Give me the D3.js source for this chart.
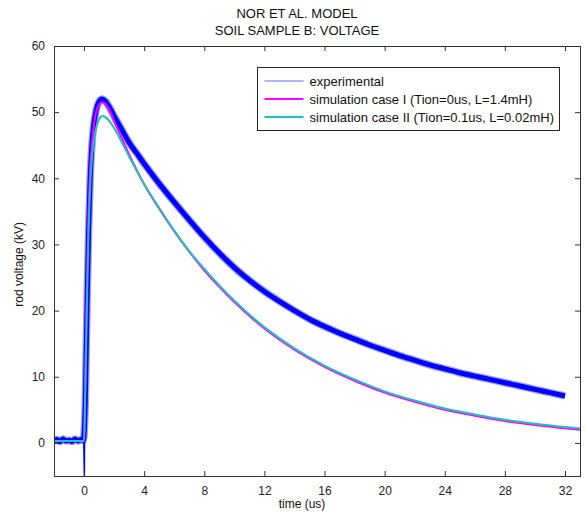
<!DOCTYPE html>
<html>
<head>
<meta charset="utf-8">
<script src="https://cdn.jsdelivr.net/npm/d3@7"></script>
<style>
  body { margin: 0; background: #fff; }
  svg text { font-family: "Liberation Sans", Arial, sans-serif; }
</style>
</head>
<body>
<div id="chart"></div>
<script>
// values
var titleLines = ['NOR ET AL. MODEL', 'SOIL SAMPLE B: VOLTAGE'];
var xTicks = [0, 4, 8, 12, 16, 20, 24, 28, 32];
var yTicks = [0, 10, 20, 30, 40, 50, 60];
var legendLabels = ['experimental', 'simulation case I (Tion=0us, L=1.4mH)', 'simulation case II (Tion=0.1us, L=0.02mH)'];

// experimental trace (centre of the noisy band)
var expT = [-2, -1.8, -1.6, -1.4, -1.2, -1.0, -0.8, -0.6, -0.4, -0.2, -0.05,
  0.08, 0.12, 0.2, 0.3, 0.4, 0.5, 0.6, 0.8, 1.0, 1.2, 1.4, 1.7, 2, 2.5, 3, 3.5, 4, 5, 6, 7, 8, 9, 10,
  11, 12, 13, 14, 15, 16, 17, 18, 19, 20, 21, 22, 23, 24, 25, 26, 27, 28, 29, 30, 31, 32];
var expV = [0.3, 0.5, 0.2, 0.6, 0.3, 0.4, 0.2, 0.6, 0.3, 0.5, 0.4,
  6, 11, 21, 32, 39.5, 44.3, 47.2, 50.3, 51.6, 52.0, 51.7, 50.7, 49.4, 47.4, 45.4, 43.8, 42.2, 39.2, 36.4, 33.7, 31.1, 28.7, 26.5,
  24.6, 22.9, 21.4, 20.0, 18.7, 17.6, 16.6, 15.7, 14.8, 14.0, 13.2, 12.5, 11.8, 11.2, 10.6, 10.1, 9.6, 9.1, 8.6, 8.1, 7.6, 7.1];
// trigger glitch of the experimental trace
var spikeT = [-0.02, 0.02, 0.04, 0.08];
var spikeV = [0.4, -5, 3, 6];

// simulation case I (magenta)
var sim1T = [-2, 0, 0.05, 0.1, 0.2, 0.3, 0.4, 0.5, 0.6, 0.7, 0.8, 1.0, 1.2, 1.4, 1.7, 2, 2.5, 3, 4, 5, 6, 7, 8, 9, 10,
  12, 14, 16, 18, 20, 22, 24, 26, 28, 30, 32, 33];
var sim1V = [0.3, 0.3, 5, 12, 25, 35, 41, 44.5, 47, 48.8, 50, 51.1, 51.5, 51.3, 50.3, 48.6, 46.1, 43.6, 39.1, 35.4, 32.0, 28.9, 26.1, 23.6, 21.3,
  17.3, 14.1, 11.5, 9.4, 7.6, 6.2, 5.0, 4.1, 3.3, 2.7, 2.2, 2.0];

// simulation case II (cyan)
var sim2T = [-2, 0, 0.05, 0.1, 0.2, 0.3, 0.4, 0.5, 0.6, 0.7, 0.8, 1.0, 1.2, 1.5, 2, 2.5, 3, 4, 5, 6, 7, 8, 9, 10,
  12, 14, 16, 18, 20, 22, 24, 26, 28, 30, 32, 33];
var sim2V = [0.3, 0.3, 4, 10, 22, 32, 38.5, 42.5, 44.8, 46.4, 47.6, 48.9, 49.4, 49.1, 47.6, 45.5, 43.3, 39.1, 35.5, 32.1, 29.0, 26.3, 23.8, 21.5,
  17.5, 14.3, 11.7, 9.6, 7.8, 6.4, 5.2, 4.3, 3.5, 2.9, 2.4, 2.2];

var colors = ['#0000ff', '#ff00ff', '#1fbfbf'];

var width = 586, height = 512;
var margin = {top: 46, right: 6, bottom: 36, left: 54};
var plotW = width - margin.left - margin.right;
var plotH = height - margin.top - margin.bottom;

var svg = d3.select('#chart').append('svg')
    .attr('width', width)
    .attr('height', height);

var x = d3.scaleLinear().domain([-2, 33]).range([0, plotW]);
var y = d3.scaleLinear().domain([-5, 60]).range([plotH, 0]);

var g = svg.append('g')
    .attr('transform', 'translate(' + margin.left + ',' + margin.top + ')');

g.append('defs').append('clipPath').attr('id', 'clip')
  .append('rect').attr('width', plotW).attr('height', plotH);

var zip = function(ts, vs){ return ts.map(function(t, i){ return [t, vs[i]]; }); };
var line = d3.line().x(function(d){ return x(d[0]); }).y(function(d){ return y(d[1]); });
var smooth = d3.line().curve(d3.curveMonotoneX).x(function(d){ return x(d[0]); }).y(function(d){ return y(d[1]); });

var lines = g.append('g').attr('clip-path', 'url(#clip)');

// experimental: a fuzzy halo and a solid core to stand for the noise band
var expData = zip(expT, expV);
lines.append('path').datum(expData)
    .attr('d', smooth)
    .style('fill', 'none').style('stroke', '#5a5aff').style('stroke-width', 7.5)
    .style('stroke-linejoin', 'round').style('opacity', 0.6);
lines.append('path').datum(expData)
    .attr('d', smooth)
    .style('fill', 'none').style('stroke', colors[0]).style('stroke-width', 5)
    .style('stroke-linejoin', 'round');
lines.append('path').datum(zip(spikeT, spikeV))
    .attr('d', line)
    .style('fill', 'none').style('stroke', colors[0]).style('stroke-width', 1.5);

lines.append('path').datum(zip(sim1T, sim1V))
    .attr('d', smooth)
    .style('fill', 'none').style('stroke', colors[1]).style('stroke-width', 2);
lines.append('path').datum(zip(sim2T, sim2V))
    .attr('d', smooth)
    .style('fill', 'none').style('stroke', colors[2]).style('stroke-width', 2);

// axes, ticks inward on all four sides
var axisColor = '#333';
g.append('g')
    .attr('transform', 'translate(0,' + plotH + ')')
    .call(d3.axisBottom(x).tickValues(xTicks).tickSizeInner(-5).tickSizeOuter(0).tickPadding(10))
    .call(function(a){ a.select('.domain').remove(); });
g.append('g')
    .call(d3.axisTop(x).tickValues(xTicks).tickSizeInner(-5).tickSizeOuter(0).tickFormat(''))
    .call(function(a){ a.select('.domain').remove(); });
g.append('g')
    .call(d3.axisLeft(y).tickValues(yTicks).tickSizeInner(-5).tickSizeOuter(0).tickPadding(9))
    .call(function(a){ a.select('.domain').remove(); });
g.append('g')
    .attr('transform', 'translate(' + plotW + ',0)')
    .call(d3.axisRight(y).tickValues(yTicks).tickSizeInner(-5).tickSizeOuter(0).tickFormat(''))
    .call(function(a){ a.select('.domain').remove(); });

g.selectAll('.tick line').style('stroke', axisColor);
g.selectAll('.tick text').style('font-size', '12px').style('fill', '#222');

g.append('rect')
    .attr('x', 0.5).attr('y', 0.5)
    .attr('width', plotW).attr('height', plotH)
    .style('fill', 'none').style('stroke', axisColor).style('stroke-width', 1);

// titles and axis labels
svg.selectAll('.title').data(titleLines).enter().append('text')
    .attr('class', 'title')
    .attr('x', 297)
    .attr('y', function(d, i){ return 18 + i * 17; })
    .attr('text-anchor', 'middle')
    .style('font-size', '13px').style('fill', '#111')
    .text(function(d){ return d; });

svg.append('text')
    .attr('x', 302).attr('y', 508)
    .attr('text-anchor', 'middle')
    .style('font-size', '12px').style('fill', '#111')
    .text('time (us)');

svg.append('text')
    .attr('transform', 'translate(23,' + (margin.top + y(27)) + ') rotate(-90)')
    .attr('text-anchor', 'middle')
    .style('font-size', '12px').style('fill', '#111')
    .text('rod voltage (kV)');

// legend
var leg = svg.append('g').attr('transform', 'translate(257.5,67.5)');
leg.append('rect')
    .attr('width', 302).attr('height', 63)
    .style('fill', '#fff').style('stroke', '#222').style('stroke-width', 1);
var items = leg.selectAll('.item').data(legendLabels).enter().append('g')
    .attr('class', 'item')
    .attr('transform', function(d, i){ return 'translate(0,' + (13.5 + i * 18) + ')'; });
items.append('line')
    .attr('x1', 7).attr('x2', 46)
    .style('stroke', function(d, i){ return i === 0 ? '#6a6aff' : colors[i]; })
    .style('stroke-width', function(d, i){ return i === 0 ? 1.2 : 2; });
items.append('text')
    .attr('x', 52).attr('y', 4.5)
    .style('font-size', '13px').style('fill', '#111')
    .text(function(d){ return d; });
</script>
</body>
</html>
